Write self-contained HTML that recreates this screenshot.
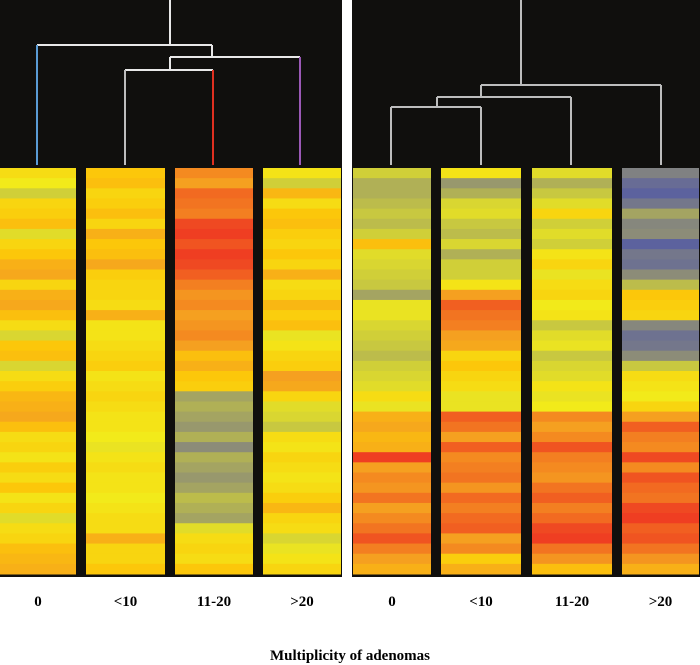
<!DOCTYPE html>
<html><head><meta charset="utf-8">
<style>
html,body{margin:0;padding:0;background:#fff;}
svg{display:block;}
text{font-family:"Liberation Serif",serif;font-weight:bold;}
</style></head>
<body>
<svg id="chart" width="700" height="665" viewBox="0 0 700 665">
  <rect x="0" y="0" width="342" height="577" fill="#100f0d"/>
  <rect x="352" y="0" width="348" height="577" fill="#100f0d"/>
  <g id="dendro"></g>
  <g id="cells"></g>
  <g id="labels"></g>
  <text x="350" y="660" text-anchor="middle" font-size="15" fill="#000">Multiplicity of adenomas</text>
</svg>
<script>
const categories = ["0","<10","11-20",">20"];
const leftCol0 = [2.2,2,1.6,2.3,2.4,2.6,1.8,2.3,2.5,2.8,2.9,2.3,2.8,2.9,2.6,2.2,1.7,2.5,2.6,1.7,2.2,2.4,2.7,2.8,2.9,2.6,2.2,2.3,2.1,2.4,2.2,2.5,2.1,2.3,1.8,2.2,2.3,2.6,2.7,2.8];
const leftCol1 = [2.5,2.6,2.3,2.4,2.6,2.3,2.8,2.5,2.6,2.9,2.4,2.3,2.3,2.2,2.8,2.1,2.1,2.2,2.3,2.4,2.1,2.2,2.3,2.2,2.1,2.1,2.0,1.9,2.1,2.2,2.1,2.1,2.0,2.1,2.2,2.2,2.8,2.3,2.3,2.5];
const leftCol2 = [3.2,3.0,3.5,3.4,3.3,3.8,3.9,3.7,3.9,3.8,3.6,3.3,3.1,3.2,3.0,3.1,3.2,3.0,2.6,2.8,2.5,2.4,1.2,1.3,1.2,1.1,1.3,1.0,1.3,1.2,1.1,1.2,1.4,1.3,1.2,1.8,2.2,2.3,2.2,2.5];
const leftCol3 = [2.1,1.6,2.7,2.2,2.5,2.6,2.4,2.3,2.5,2.3,2.8,2.2,2.3,2.7,2.4,2.6,1.9,2.1,2.3,2.4,3.0,2.9,2.3,1.8,1.7,1.5,2.2,2.1,2.3,2.2,2.1,2.2,2.4,2.7,2.3,2.2,1.7,1.9,2.1,2.3];
const rightCol0 = [1.6,1.3,1.3,1.4,1.5,1.4,1.6,2.6,1.8,1.7,1.6,1.5,1.2,1.9,1.9,1.7,1.6,1.5,1.4,1.6,1.7,1.8,2.2,1.9,2.8,2.9,2.7,2.8,3.9,3.0,3.2,3.1,3.4,3.0,3.2,3.4,3.7,3.3,3.0,2.8];
const rightCol1 = [2.1,1.1,1.3,1.7,1.8,1.5,1.4,1.7,1.3,1.6,1.6,2.1,3.0,3.6,3.4,3.3,3.0,2.9,2.3,2.5,2.3,2.2,1.9,1.9,3.6,3.4,3.0,3.6,3.2,3.3,3.4,3.1,3.5,3.3,3.5,3.6,3.0,3.2,2.4,2.8];
const rightCol2 = [1.8,1.3,1.5,1.8,2.3,1.6,1.8,1.6,2.1,2.3,1.9,2.2,2.3,2.0,2.1,1.5,1.8,1.9,1.5,1.7,1.8,2.1,1.9,2.0,3.2,3.0,3.2,3.7,3.3,3.2,3.1,3.4,3.6,3.3,3.5,3.8,3.9,3.4,3.1,2.6];
const rightCol3 = [0.8,0.4,0.2,0.6,1.2,0.9,1.0,0.2,0.6,0.5,1.0,1.4,2.5,2.4,2.3,0.9,0.5,0.6,1.0,1.5,2.2,2.1,2.0,2.3,3.0,3.6,3.3,3.2,3.8,3.2,3.7,3.5,3.4,3.8,3.9,3.6,3.7,3.4,3.1,2.8];

const NS = "http://www.w3.org/2000/svg";
const stops = [[0,[80,87,168]],[1,[140,140,120]],[1.5,[200,200,64]],[2,[242,234,26]],[2.5,[252,199,10]],[3,[245,160,32]],[4,[238,51,34]]];
function colorScale(v){
  v=Math.max(0,Math.min(4,v));
  for(let i=0;i<stops.length-1;i++){
    const a=stops[i],b=stops[i+1];
    if(v<=b[0]){const t=(v-a[0])/(b[0]-a[0]);
      const c=a[1].map((x,k)=>Math.round(x+(b[1][k]-x)*t));
      return `rgb(${c[0]},${c[1]},${c[2]})`;}
  }
  return "rgb(238,51,34)";
}
const yTop=168, yBottom=574;
function yScale(i,n){return yTop+(yBottom-yTop)*i/n;}
const panels=[
  {name:"left",cols:[[0,76],[86,165],[175,253],[263,341]],data:[leftCol0,leftCol1,leftCol2,leftCol3]},
  {name:"right",cols:[[353,431],[441,521],[532,612],[622,699]],data:[rightCol0,rightCol1,rightCol2,rightCol3]}
];
const cellsG=document.getElementById('cells');
const labelsG=document.getElementById('labels');
panels.forEach(p=>{
  p.data.forEach((arr,ci)=>{
    const [x0,x1]=p.cols[ci];
    arr.forEach((v,ri)=>{
      const r=document.createElementNS(NS,'rect');
      const y0=yScale(ri,arr.length), y1=yScale(ri+1,arr.length);
      r.setAttribute('x',x0);r.setAttribute('y',y0.toFixed(2));
      r.setAttribute('width',x1-x0);r.setAttribute('height',(y1-y0+0.5).toFixed(2));
      r.setAttribute('fill',colorScale(v));
      
      
      cellsG.appendChild(r);
    });
    const t=document.createElementNS(NS,'text');
    t.setAttribute('x',(x0+x1)/2);t.setAttribute('y',606);
    t.setAttribute('text-anchor','middle');t.setAttribute('font-size','15');
    t.textContent=categories[ci];
    
    
    labelsG.appendChild(t);
  });
});
const dG=document.getElementById('dendro');
function line(x1,y1,x2,y2,c){
  const l=document.createElementNS(NS,'line');
  l.setAttribute('x1',x1);l.setAttribute('y1',y1);l.setAttribute('x2',x2);l.setAttribute('y2',y2);
  l.setAttribute('stroke',c);l.setAttribute('stroke-width','2');
  
  
  dG.appendChild(l);
}
const W="#e8e8e8", G="#bdbdbd";
line(170,0,170,45,W);line(37,45,212,45,W);
line(37,45,37,165,"#5a9bd5");
line(212,45,212,57,W);line(170,57,300,57,W);
line(300,57,300,165,"#9b59b6");
line(170,57,170,70,W);line(125,70,213,70,W);
line(125,70,125,165,G);line(213,70,213,165,"#e03020");
line(521,0,521,85,G);line(481,85,661,85,G);line(661,85,661,165,G);
line(481,85,481,97,G);line(437,97,571,97,G);line(571,97,571,165,G);
line(437,97,437,107,G);line(391,107,481,107,G);
line(391,107,391,165,G);line(481,107,481,165,G);
</script>
</body></html>
